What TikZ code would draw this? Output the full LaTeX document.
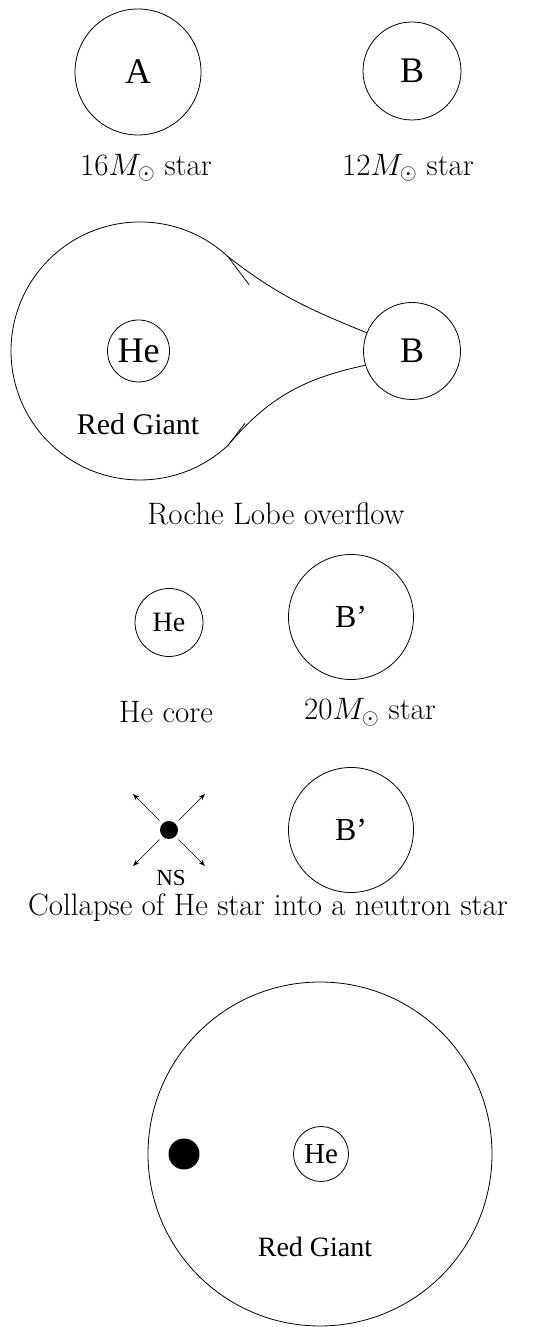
\RequirePackage{fix-cm}
\documentclass[tikz,border=0pt]{standalone}
\usepackage{fontspec}
\usepackage{amsmath}
\newfontfamily\timesfont{Liberation Serif}
\usetikzlibrary{positioning, calc, arrows.meta}
\tikzset{
  starnode/.style={draw, circle, inner sep=0pt},
  txt/.style={font={\timesfont\fontsize{#1}{#1}\selectfont}},
  capt/.style={font={\fontsize{31}{31}\selectfont}},
  nsarrow/.style={-{Stealth[length=7pt, width=5pt]}, line width=0.6pt, shorten <=4pt},
}

\begin{document}
\begin{tikzpicture}[x=1pt, y=1pt, line width=0.8pt]
    \useasboundingbox (0,0) rectangle (543,1327);

    % Initial binary
    \node[starnode, minimum size=126pt, txt=36] (starA) at (138,1255) {A};
    \node[starnode, minimum size=98pt, txt=36] (starB) at (412,1256) {B};
    \node[capt] (massA) at (146,1159) {$16M_\odot$ star};
    \node[capt] (massB) at (408,1159) {$12M_\odot$ star};

    % Roche lobe overflow
    \coordinate (lobe) at (140,976);
    \coordinate (lobeUp) at ($(lobe)+(47:129)$);
    \coordinate (lobeDn) at ($(lobe)+(-47:129)$);
    \node[starnode, minimum size=62pt, txt=36] (heRG) at (138.5,976) {He};
    \node[starnode, minimum size=97pt, txt=36] (starBr) at (412,976) {B};
    \node[txt=30] (rgLbl) at (138,903) {Red Giant};
    \draw (starBr.158) to[out=158, in=-38] (lobeUp)
        arc[start angle=47, end angle=313, radius=129]
        to[out=50, in=192] (starBr.197);
    \draw (lobeUp) -- ++(21,-28);
    \draw (lobeDn) -- ++(17,22);
    \node[capt] (roche) at (276,813) {Roche Lobe overflow};

    % Helium core and mass gainer
    \node[starnode, minimum size=68pt, txt=28] (heCore) at (169,704.5) {He};
    \node[starnode, minimum size=125pt, txt=32] (starBp) at (351,710) {B’};
    \node[capt] (coreLbl) at (166,615) {He core};
    \node[capt] (massBp) at (370,615) {$20M_\odot$ star};

    % Supernova
    \node[circle, fill, minimum size=18pt, inner sep=0pt] (ns) at (169,497) {};
    \foreach \a in {45,135,225,315}
        \draw[nsarrow] (ns.\a) -- ($(ns)+(\a:51)$);
    \node[txt=23] (nsLbl) at (171,449) {NS};
    \node[starnode, minimum size=125pt, txt=32] (starBq) at (351,497) {B’};
    \node[capt] (collapse) at (268,419) {Collapse of He star into a neutron star};

    % Common envelope
    \node[starnode, minimum size=344pt] (rgB) at (320,173) {};
    \node[circle, fill, minimum size=31pt, inner sep=0pt] (nsIn) at (184,173) {};
    \node[starnode, minimum size=55pt, txt=29] (heIn) at (321,173) {He};
    \node[txt=28] (rgBLbl) at (315,80) {Red Giant};
\end{tikzpicture}
\end{document}
